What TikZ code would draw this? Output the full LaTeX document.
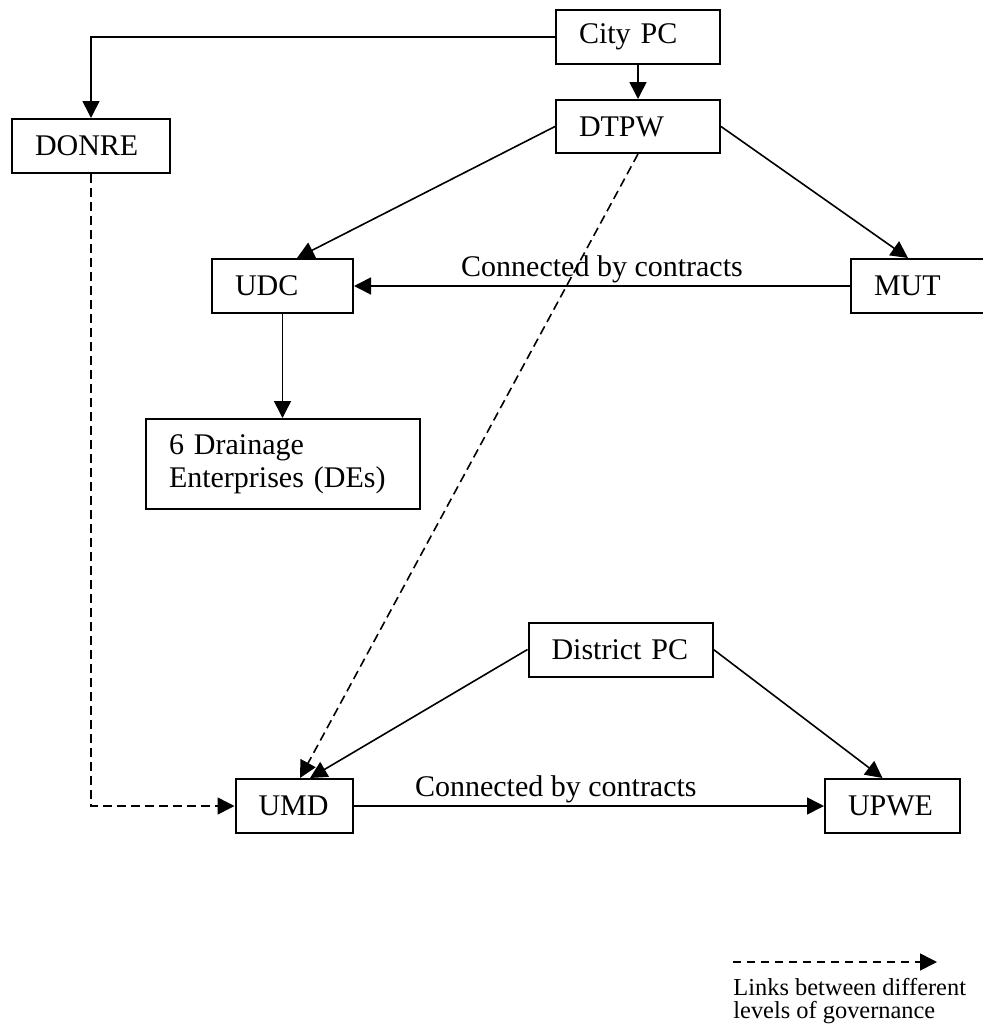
\documentclass[tikz,border=0pt]{standalone}
\usepackage{fontspec}
\setmainfont{Liberation Serif}
\usetikzlibrary{arrows.meta,positioning}

\tikzset{
  box/.style={draw, line width=1pt, rectangle, inner xsep=11.5pt, inner ysep=0pt,
    align=left, minimum height=27pt, font=\fontsize{15}{17.5}\selectfont},
  arr/.style={line width=0.8pt, -{Triangle[length=8.5pt,width=8.5pt]}},
  link/.style={arr, dash pattern=on 4.5pt off 2.5pt},
  lbl/.style={font=\fontsize{15}{17.5}\selectfont, inner sep=1pt}
}

\begin{document}
\begin{tikzpicture}[x=0.5pt, y=-0.5pt]
\useasboundingbox (0,0) rectangle (983,1028);

% City level
\node[box, text width=59pt] (citypc) at (638,37) {City PC};
\node[box, text width=59pt, minimum height=26.5pt] (dtpw) at (638,126.5) {DTPW};
\node[box, text width=56pt] (donre) at (91,146) {DONRE};

% Agencies under DTPW
\node[box, text width=47.5pt] (udc) at (282.5,286) {UDC};
\node[box, text width=49pt] (mut) at (923,286) {MUT};
\node[box, text width=114pt, minimum height=45pt, font=\fontsize{15}{16.5}\selectfont]
  (drain) at (283,464) {6 Drainage\\Enterprises (DEs)};

% District level
\node[box, text width=69pt] (distpc) at (620.5,649.5) {District PC};
\node[box, text width=35.5pt] (umd) at (294,806) {UMD};
\node[box, text width=44.5pt] (upwe) at (892.5,806) {UPWE};

% Links inside the city level
\draw[arr] (citypc.west) -| (donre.north);
\draw[arr] (citypc) -- (dtpw);
\draw[arr] (dtpw.west) -- ([xshift=7.25pt]udc.north);
\draw[arr] (dtpw.east) -- ([xshift=-7.5pt]mut.north);
\draw[arr] (mut.west) -- node[lbl, above] {Connected by contracts} (udc.east);
\draw[arr] (udc.south) -- (udc.south |- drain.north);

% Links inside the district level
\draw[arr] (distpc.west) -- ([xshift=8pt]umd.north);
\draw[arr] (distpc.east) -- ([xshift=-5pt]upwe.north);
\draw[arr] (umd.east) -- node[lbl, above, pos=0.43] {Connected by contracts} (upwe.west);

% Links between levels
\draw[link] (dtpw.south) -- ([xshift=3pt]umd.north);
\draw[link] (donre.south) |- (umd.west);

% Legend
\coordinate (legA) at (733,962);
\coordinate (legB) at (937,962);
\draw[link, dash pattern=on 4pt off 3pt] (legA) -- (legB);
\node[anchor=north west, inner sep=0pt, align=left, font=\fontsize{12.2}{11.5}\selectfont]
  (legtext) at (733,978) {Links between different\\levels of governance};

\end{tikzpicture}
\end{document}
